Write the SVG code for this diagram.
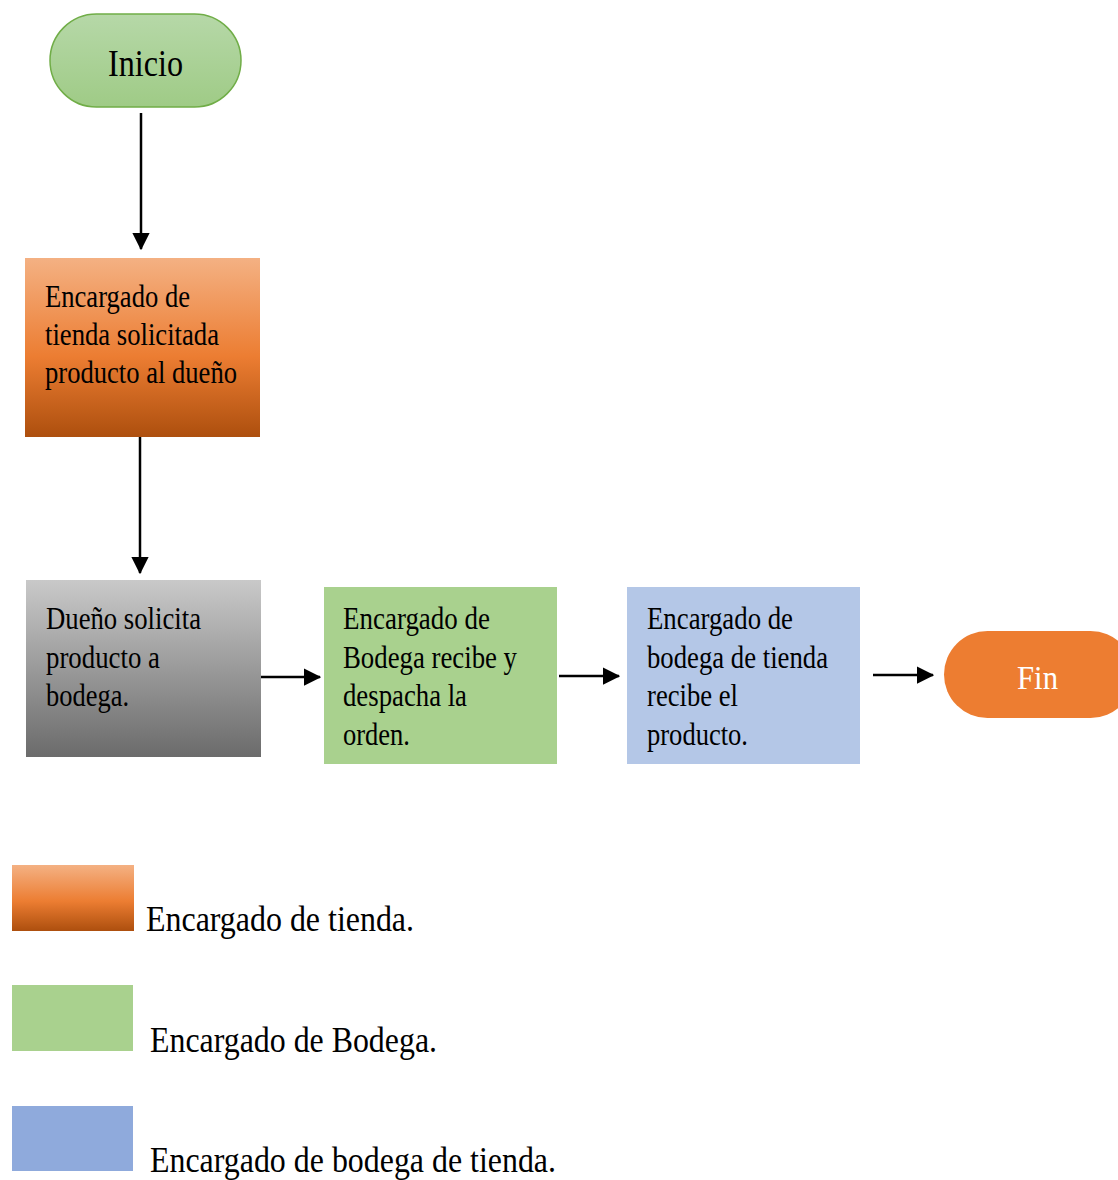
<svg xmlns="http://www.w3.org/2000/svg" width="1118" height="1180" viewBox="0 0 1118 1180">
  <defs>
    <linearGradient id="gStart" x1="0" y1="0" x2="0" y2="1">
      <stop offset="0" stop-color="#b6d8a8"/>
      <stop offset="1" stop-color="#9fcb86"/>
    </linearGradient>
    <linearGradient id="gOrange" x1="0" y1="0" x2="0" y2="1">
      <stop offset="0" stop-color="#f4b183"/>
      <stop offset="0.55" stop-color="#ec7d32"/>
      <stop offset="1" stop-color="#ad4f0e"/>
    </linearGradient>
    <linearGradient id="gGray" x1="0" y1="0" x2="0" y2="1">
      <stop offset="0" stop-color="#c9c9c9"/>
      <stop offset="1" stop-color="#6b6b6b"/>
    </linearGradient>
    <marker id="arrow" markerWidth="7" markerHeight="7" refX="6.5" refY="3.5" orient="auto" markerUnits="strokeWidth">
      <path d="M0,0 L7,3.5 L0,7 Z" fill="#000"/>
    </marker>
    <style>
      .t { font-family: "Liberation Serif", "Times New Roman", serif; font-size: 31px; fill: #000; }
      .lg { font-family: "Liberation Serif", "Times New Roman", serif; font-size: 35px; fill: #000; }
      .conn { stroke: #000; stroke-width: 2.5; fill: none; marker-end: url(#arrow); }
    </style>
  </defs>

  <rect width="1118" height="1180" fill="#fff"/>

  <!-- connectors -->
  <g id="connectors">
    <line class="conn" x1="141" y1="113" x2="141" y2="249"/>
    <line class="conn" x1="140" y1="437" x2="140" y2="573"/>
    <line class="conn" x1="261" y1="677" x2="320" y2="677"/>
    <line class="conn" x1="559" y1="676" x2="619" y2="676"/>
    <line class="conn" x1="873" y1="675" x2="933" y2="675"/>
  </g>

  <!-- start terminal -->
  <g id="inicio">
    <rect x="50" y="14" width="191" height="93" rx="46.5" ry="46.5" fill="url(#gStart)" stroke="#70ad47" stroke-width="1.5"/>
    <text class="t" x="108" y="76" style="font-size:37px" textLength="75" lengthAdjust="spacingAndGlyphs">Inicio</text>
  </g>

  <!-- store manager request -->
  <g id="solicitud-tienda">
    <rect x="25" y="258" width="235" height="179" fill="url(#gOrange)"/>
    <text class="t" x="45" y="307" textLength="145" lengthAdjust="spacingAndGlyphs">Encargado de</text>
    <text class="t" x="45" y="345" textLength="174" lengthAdjust="spacingAndGlyphs">tienda solicitada</text>
    <text class="t" x="45" y="383" textLength="192" lengthAdjust="spacingAndGlyphs">producto al dueño</text>
  </g>

  <!-- owner request -->
  <g id="solicitud-dueno">
    <rect x="26" y="580" width="235" height="177" fill="url(#gGray)"/>
    <text class="t" x="46" y="629" textLength="155" lengthAdjust="spacingAndGlyphs">Dueño solicita</text>
    <text class="t" x="46" y="668" textLength="114" lengthAdjust="spacingAndGlyphs">producto a</text>
    <text class="t" x="46" y="706" textLength="83" lengthAdjust="spacingAndGlyphs">bodega.</text>
  </g>

  <!-- warehouse dispatch -->
  <g id="despacho-bodega">
    <rect x="324" y="587" width="233" height="177" fill="#a9d18e"/>
    <text class="t" x="343" y="629" textLength="147" lengthAdjust="spacingAndGlyphs">Encargado de</text>
    <text class="t" x="343" y="668" textLength="174" lengthAdjust="spacingAndGlyphs">Bodega recibe y</text>
    <text class="t" x="343" y="706" textLength="124" lengthAdjust="spacingAndGlyphs">despacha la</text>
    <text class="t" x="343" y="745" textLength="67" lengthAdjust="spacingAndGlyphs">orden.</text>
  </g>

  <!-- store warehouse receipt -->
  <g id="recepcion-tienda">
    <rect x="627" y="587" width="233" height="177" fill="#b4c7e7"/>
    <text class="t" x="647" y="629" textLength="146" lengthAdjust="spacingAndGlyphs">Encargado de</text>
    <text class="t" x="647" y="668" textLength="181" lengthAdjust="spacingAndGlyphs">bodega de tienda</text>
    <text class="t" x="647" y="706" textLength="91" lengthAdjust="spacingAndGlyphs">recibe el</text>
    <text class="t" x="647" y="745" textLength="101" lengthAdjust="spacingAndGlyphs">producto.</text>
  </g>

  <!-- end terminal -->
  <g id="fin">
    <rect x="944" y="631" width="190" height="87" rx="43.5" ry="43.5" fill="#ed7d31"/>
    <text class="t" x="1017" y="689" style="font-size:33px;fill:#fff" textLength="41" lengthAdjust="spacingAndGlyphs">Fin</text>
  </g>

  <!-- legend -->
  <g id="leyenda">
    <rect x="12" y="865" width="122" height="66" fill="url(#gOrange)"/>
    <text class="lg" x="146" y="931" textLength="268" lengthAdjust="spacingAndGlyphs">Encargado de tienda.</text>
    <rect x="12" y="985" width="121" height="66" fill="#a9d18e"/>
    <text class="lg" x="150" y="1052" textLength="287" lengthAdjust="spacingAndGlyphs">Encargado de Bodega.</text>
    <rect x="12" y="1106" width="121" height="65" fill="#8faadc"/>
    <text class="lg" x="150" y="1172" textLength="406" lengthAdjust="spacingAndGlyphs">Encargado de bodega de tienda.</text>
  </g>
</svg>
